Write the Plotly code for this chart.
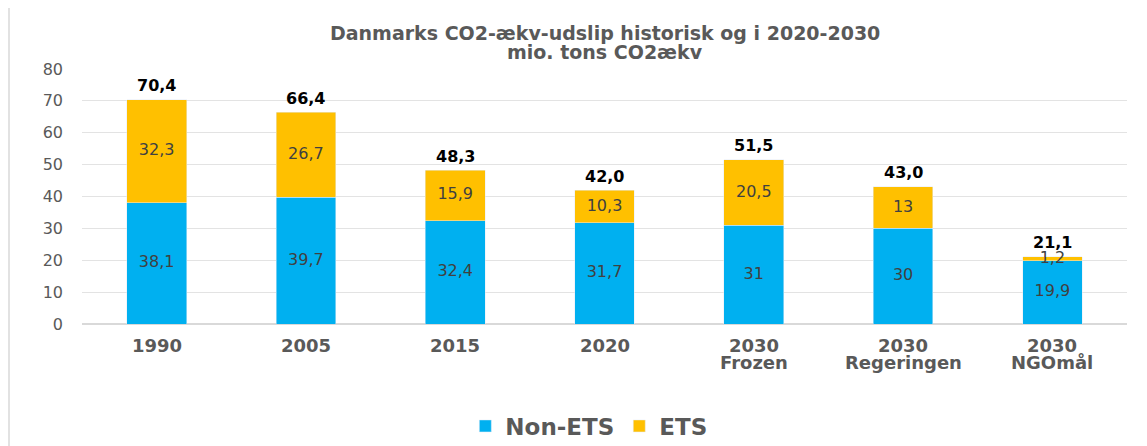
import plotly.graph_objects as go

categories = ["1990", "2005", "2015", "2020", "2030 Frozen", "2030 Regeringen", "2030 NGOmål"]
tick_line1 = ["1990", "2005", "2015", "2020", "2030", "2030", "2030"]
tick_line2 = ["", "", "", "", "Frozen", "Regeringen", "NGOmål"]
non_ets = [38.1, 39.7, 32.4, 31.7, 31, 30, 19.9]
ets = [32.3, 26.7, 15.9, 10.3, 20.5, 13, 1.2]
non_ets_labels = ["38,1", "39,7", "32,4", "31,7", "31", "30", "19,9"]
ets_labels = ["32,3", "26,7", "15,9", "10,3", "20,5", "13", "1,2"]
total_labels = ["70,4", "66,4", "48,3", "42,0", "51,5", "43,0", "21,1"]
title_line1 = "Danmarks CO2-ækv-udslip historisk og i 2020-2030"
title_line2 = "mio. tons CO2ækv"

totals = [a + b for a, b in zip(non_ets, ets)]
FONT = "DejaVu Sans"
BLUE = "#00B0F0"
GOLD = "#FFC000"
GRAY = "#595959"

# page has an 8px body margin; compensate so the plot lands where the reference has it
W, H = 1139, 438
ML, MT, PH = 74, 61, 255
PW = 1045
MR = W - ML - PW
MB = H - MT - PH

fig = go.Figure()
fig.add_trace(go.Bar(x=categories, y=non_ets, name="<b>Non-ETS</b>", marker_color=BLUE,
                     textposition="none", hoverinfo="skip"))
fig.add_trace(go.Bar(x=categories, y=ets, name="<b>ETS</b>", marker_color=GOLD,
                     textposition="none", hoverinfo="skip"))
fig.add_trace(go.Scatter(x=categories, y=[v / 2 for v in non_ets], mode="text",
                         text=non_ets_labels, textposition="middle center",
                         textfont=dict(family=FONT, size=16, color="#404040"),
                         showlegend=False, hoverinfo="skip"))
fig.add_trace(go.Scatter(x=categories, y=[a + b / 2 for a, b in zip(non_ets, ets)], mode="text",
                         text=ets_labels, textposition="middle center",
                         textfont=dict(family=FONT, size=16, color="#404040"),
                         showlegend=False, hoverinfo="skip"))

annotations = []
for i, (t, lab) in enumerate(zip(totals, total_labels)):
    annotations.append(dict(x=i, y=t, xref="x", yref="y", text="<b>%s</b>" % lab,
                            showarrow=False, yanchor="middle", yshift=14,
                            font=dict(family=FONT, size=16, color="#000000")))
for i, (l1, l2) in enumerate(zip(tick_line1, tick_line2)):
    annotations.append(dict(x=i, y=-21 / PH, xref="x", yref="paper", text="<b>%s</b>" % l1,
                            showarrow=False, yanchor="middle",
                            font=dict(family=FONT, size=18, color=GRAY)))
    if l2:
        annotations.append(dict(x=i, y=-38.5 / PH, xref="x", yref="paper", text="<b>%s</b>" % l2,
                                showarrow=False, yanchor="middle",
                                font=dict(family=FONT, size=18, color=GRAY)))
annotations.append(dict(x=0.5, y=1 + (MT - 25) / PH, xref="paper", yref="paper",
                        text="<b>%s</b>" % title_line1, showarrow=False, yanchor="middle",
                        font=dict(family=FONT, size=19, color=GRAY)))
annotations.append(dict(x=0.5, y=1 + (MT - 44) / PH, xref="paper", yref="paper",
                        text="<b>%s</b>" % title_line2, showarrow=False, yanchor="middle",
                        font=dict(family=FONT, size=19, color=GRAY)))

fig.update_layout(
    width=W, height=H,
    margin=dict(l=ML, r=MR, t=MT, b=MB, autoexpand=False),
    paper_bgcolor="white", plot_bgcolor="white",
    barmode="stack", bargap=0.6,
    font=dict(family=FONT, color=GRAY),
    legend=dict(orientation="h", x=0.485, xanchor="center", y=-102 / PH, yanchor="middle",
                font=dict(family=FONT, size=23, color=GRAY), traceorder="normal",
                itemwidth=30),
    xaxis=dict(type="category", range=[-0.5, len(categories) - 0.5], showticklabels=False,
               showgrid=False, showline=False, ticks="", automargin=False),
    yaxis=dict(range=[0, 80], dtick=10, tickfont=dict(family=FONT, size=16, color=GRAY),
               showgrid=True, gridcolor="#E3E3E3", gridwidth=1, zeroline=True,
               zerolinecolor="#D9D9D9", ticks="", automargin=False, ticklabelstandoff=18),
    annotations=annotations,
    shapes=[dict(type="line", xref="paper", yref="paper",
                 x0=(-ML + 1) / PW, x1=(-ML + 1) / PW, y0=-MB / PH, y1=1 + MT / PH,
                 line=dict(color="#D9D9D9", width=1.5))],
)
fig.write_html("out.html")
